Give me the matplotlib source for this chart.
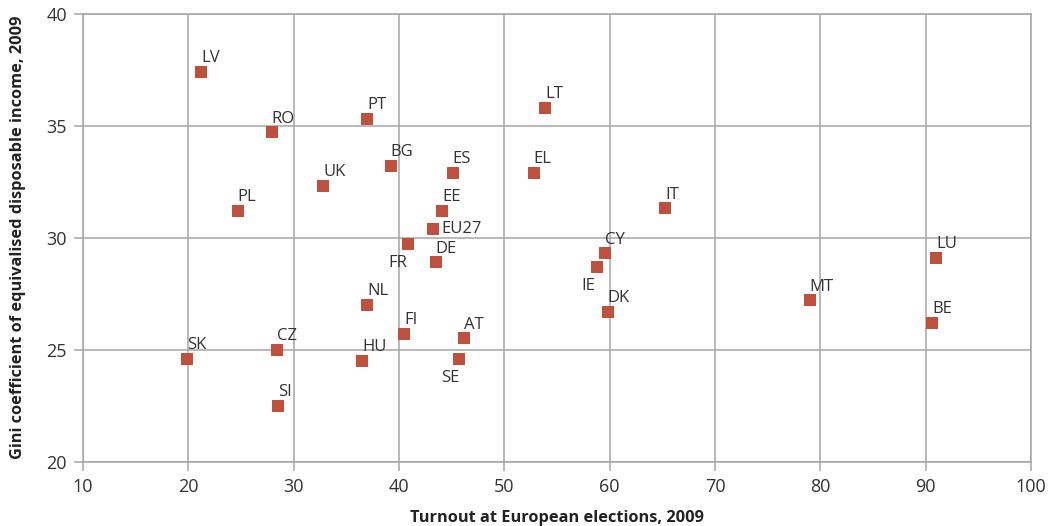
import matplotlib
matplotlib.use("Agg")
import matplotlib.pyplot as plt

# country codes, turnout at EP elections 2009 (%), Gini coefficient 2009
countries = ["LV", "RO", "PT", "LT", "BG", "ES", "EL", "UK", "PL", "EE", "IT",
             "EU27", "FR", "CY", "DE", "LU", "IE", "MT", "NL", "DK", "BE",
             "FI", "AT", "CZ", "SK", "SE", "HU", "SI"]
turnout = [21.2, 27.9, 37.0, 53.9, 39.2, 45.1, 52.8, 32.8, 24.7, 44.1, 65.3,
           43.2, 40.9, 59.6, 43.5, 91.0, 58.8, 79.0, 37.0, 59.8, 90.6,
           40.5, 46.2, 28.4, 19.9, 45.7, 36.5, 28.5]
gini = [37.4, 34.7, 35.3, 35.8, 33.2, 32.9, 32.9, 32.3, 31.2, 31.2, 31.3,
        30.4, 29.7, 29.3, 28.9, 29.1, 28.7, 27.2, 27.0, 26.7, 26.2,
        25.7, 25.5, 25.0, 24.6, 24.6, 24.5, 22.5]

# label placement: default is above-right of the marker
label_pos = {
    "EU27": ((6, -3), "left"),
    "FR": ((-1, -16), "right"),
    "IE": ((-1, -16.5), "right"),
    "SE": ((0, -16.5), "right"),
}

grey = "#a6a6a6"
text_col = "#333333"
red = "#c0503e"

plt.rcParams["font.family"] = ["Open Sans", "DejaVu Sans"]

fig = plt.figure(figsize=(10.56, 5.26), dpi=100)
ax = fig.add_axes([0.0786, 0.1222, 0.8977, 0.8521])

ax.scatter(turnout, gini, marker="s", s=72, color=red, linewidths=0, zorder=3)

for c, x, y in zip(countries, turnout, gini):
    off, ha = label_pos.get(c, ((0, 7), "left"))
    ax.annotate(c, (x, y), xytext=off, textcoords="offset points",
                ha=ha, va="baseline", fontsize=12, color=text_col, zorder=4)

ax.set_xlim(10, 100)
ax.set_ylim(20, 40)
ax.set_xticks(range(10, 101, 10))
ax.set_yticks(range(20, 41, 5))
ax.grid(True, color=grey, linewidth=1.1)
ax.set_axisbelow(True)
for sp in ax.spines.values():
    sp.set_color(grey)
    sp.set_linewidth(1.1)
ax.tick_params(colors=grey, labelcolor=text_col, length=6.5, width=1.1,
               labelsize=13, pad=5)

ax.set_xlabel("Turnout at European elections, 2009", fontsize=11.8,
              fontweight="bold", color="#222222", labelpad=10)
ax.set_ylabel("Gini coefficient of equivalised disposable income, 2009",
              fontsize=11.8, fontweight="bold", color="#222222", labelpad=15)

fig.savefig("out.png", dpi=100)
